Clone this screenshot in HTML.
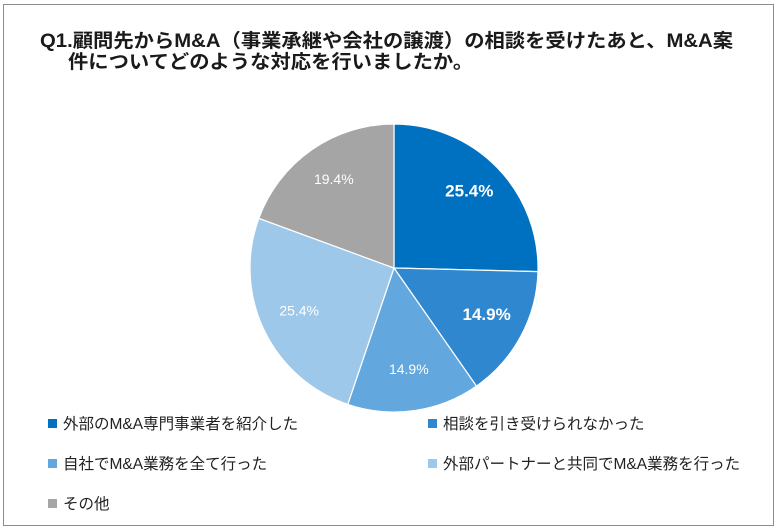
<!DOCTYPE html>
<html><head><meta charset="utf-8">
<style>
body{margin:0;background:#fff;}
#wrap{position:relative;width:780px;height:531px;overflow:hidden;font-family:"Liberation Sans","Noto Sans CJK JP",sans-serif;}
#frame{position:absolute;left:3px;top:4px;width:771px;height:522px;border:1px solid #8c8c8c;box-sizing:border-box;}
.tl{position:absolute;font-size:19px;font-weight:bold;color:#1a1a1a;line-height:21px;white-space:nowrap;transform-origin:0 0;}
.leg{position:absolute;font-size:15.5px;color:#222;white-space:nowrap;}
.leg span.sw{display:inline-block;width:9px;height:9px;margin-right:6px;vertical-align:1px;}
</style></head><body>
<div id="wrap">
<div id="frame"></div>
<div id="t1" class="tl" style="left:40px;top:31px">Q1.顧問先からM&amp;A（事業承継や会社の譲渡）の相談を受けたあと、M&amp;A案</div>
<div id="t2" class="tl" style="left:68px;top:52px">件についてどのような対応を行いましたか。</div>
<svg id="pie" width="780" height="531" style="position:absolute;left:0;top:0"></svg>
<div id="legend"></div>
</div>
<script>
const categories=["外部のM&A専門事業者を紹介した","相談を引き受けられなかった","自社でM&A業務を全て行った","外部パートナーと共同でM&A業務を行った","その他"];
const values=[25.4,14.9,14.9,25.4,19.4];
const colors=["#0070c0","#2f87d0","#62a7de","#9ec8ea","#a5a5a5"];
const boldLabel=[true,true,false,false,false];
const t1=document.getElementById('t1'),t2=document.getElementById('t2');
const s=693/t1.getBoundingClientRect().width;
t1.style.transform='scaleX('+s+')';t2.style.transform='scaleX('+s+')';
const NS="http://www.w3.org/2000/svg";
const svg=document.getElementById('pie');
const cx=394,cy=268,r=144;
const total=values.reduce((a,b)=>a+b,0);
let a0=-Math.PI/2;
values.forEach((v,i)=>{
  const a1=a0+v/total*2*Math.PI;
  const x0=cx+r*Math.cos(a0),y0=cy+r*Math.sin(a0),x1=cx+r*Math.cos(a1),y1=cy+r*Math.sin(a1);
  const p=document.createElementNS(NS,'path');
  p.setAttribute('d',`M${cx},${cy}L${x0},${y0}A${r},${r} 0 ${a1-a0>Math.PI?1:0} 1 ${x1},${y1}Z`);
  p.setAttribute('fill',colors[i]);p.setAttribute('stroke','#fff');p.setAttribute('stroke-width','1.2');
  
  
  svg.appendChild(p);
  const am=(a0+a1)/2,lr=r*0.73;
  const t=document.createElementNS(NS,'text');
  t.setAttribute('x',cx+lr*Math.cos(am));t.setAttribute('y',cy+lr*Math.sin(am)+2);
  t.setAttribute('text-anchor','middle');t.setAttribute('fill','#fff');
  t.setAttribute('font-size',boldLabel[i]?'17':'14');
  if(boldLabel[i])t.setAttribute('font-weight','bold');
  t.setAttribute('font-family','Liberation Sans, sans-serif');
  t.textContent=v.toFixed(1)+'%';
  
  
  svg.appendChild(t);
  a0=a1;
});
const leg=document.getElementById('legend');
categories.forEach((c,i)=>{
  const d=document.createElement('div');
  d.className='leg';
  d.style.left=(i%2?428:48)+'px';
  d.style.top=(412+Math.floor(i/2)*40)+'px';
  d.innerHTML='<span class="sw" style="background:'+colors[i]+'"></span>';
  d.appendChild(document.createTextNode(c));
  
  
  leg.appendChild(d);
});
</script>
</body></html>
